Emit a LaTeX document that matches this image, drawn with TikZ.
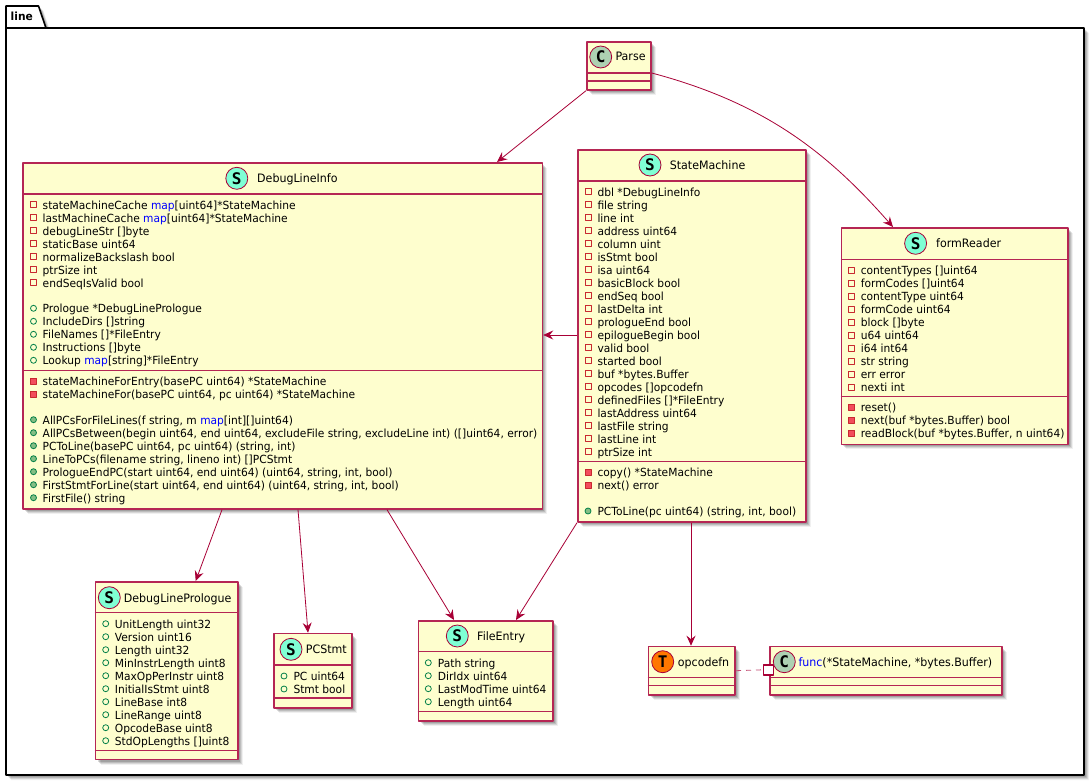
\documentclass[tikz,border=0pt]{standalone}
\usepackage{fontspec}
\setmainfont[FakeStretch=0.953]{DejaVu Sans}
\newfontfamily\spotfont{DejaVu Sans Mono}
\usetikzlibrary{calc,positioning,arrows.meta,shadows}
\definecolor{umlred}{HTML}{A80036}
\definecolor{umlfill}{HTML}{FEFECE}
\definecolor{privline}{HTML}{C82930}
\definecolor{privfill}{HTML}{F24D5C}
\definecolor{publine}{HTML}{038048}
\definecolor{pubfill}{HTML}{84BE84}
\definecolor{spotstruct}{HTML}{7FFFD4}
\definecolor{spotclass}{HTML}{ADD1B2}
\definecolor{spottype}{HTML}{FF7700}
\newcommand{\kw}[1]{\textcolor{blue}{#1}}

\begin{document}
\begin{tikzpicture}[
		x=1pt,
		y=-1pt,
		line join=round,
		softshadow/.style={
			drop shadow={shadow xshift=2pt, shadow yshift=-2pt, opacity=0.14, fill=black},
			drop shadow={shadow xshift=3pt, shadow yshift=-3pt, opacity=0.12, fill=black},
			drop shadow={shadow xshift=4pt, shadow yshift=-4pt, opacity=0.10, fill=black},
			drop shadow={shadow xshift=5pt, shadow yshift=-5pt, opacity=0.06, fill=black}
		},
		classbox/.style={draw=umlred!85!white, fill=umlfill, line width=1.7pt, inner sep=0pt, anchor=north west, softshadow},
		classline/.style={draw=umlred!85!white, line width=1.5pt},
		spot/.style={circle, draw=umlred, line width=0.8pt, minimum size=22pt, inner sep=0pt, font=\spotfont\bfseries\fontsize{16}{16}\selectfont},
		title/.style={anchor=base west, inner sep=0pt, yshift=-0.5pt, font=\fontsize{11.6}{13}\selectfont},
		member/.style={anchor=base west, inner sep=0pt, yshift=-0.5pt, font=\fontsize{11.2}{13}\selectfont},
		privfield/.style={rectangle, draw=privline, line width=0.8pt, minimum size=6pt, inner sep=0pt},
		privmethod/.style={rectangle, draw=privline, fill=privfill, line width=0.8pt, minimum size=6pt, inner sep=0pt},
		pubfield/.style={circle, draw=publine, line width=0.8pt, minimum size=6pt, inner sep=0pt},
		pubmethod/.style={circle, draw=publine, fill=pubfill, line width=0.8pt, minimum size=6pt, inner sep=0pt},
		link/.style={draw=umlred, line width=0.8pt, -{Stealth[length=10pt,width=9pt,inset=3.5pt]}}
		]
		
		\fill[white] (0,0) rectangle (1092,781);
		\useasboundingbox (0,0) rectangle (1092,781);
		
		%------------------------------------------------------------------
		% Package frame
		%------------------------------------------------------------------
		\draw[black, fill=white, line width=1.6pt, softshadow]
		(6,28) -- (6,6) -- (38.5,6) -- (46,28) -- (1084,28) -- (1084,775) -- (6,775) -- cycle;
		\draw[black, line width=1.6pt] (6,28) -- (46,28);
		\node[anchor=base west, inner sep=0pt, font=\bfseries\fontsize{11.2}{13}\selectfont] (pkgName) at (10.5,21) {line};
		
		%------------------------------------------------------------------
		% Parse
		%------------------------------------------------------------------
		\node[classbox, minimum width=64pt, minimum height=48pt] (Parse) at (586,41) {};
		\draw[classline] (Parse.west |- 0,73) -- (Parse.east |- 0,73);
		\draw[classline] (Parse.west |- 0,81) -- (Parse.east |- 0,81);
		\node[spot, fill=spotclass] (ParseSpot) at (600.7,57) {C};
		\node[title] (ParseName) at (615.3,60.5) {Parse};
		
		%------------------------------------------------------------------
		% DebugLineInfo
		%------------------------------------------------------------------
		\node[classbox, minimum width=519.5pt, minimum height=346pt] (DebugLineInfo) at (22,162) {};
		\draw[classline] (DebugLineInfo.west |- 0,194) -- (DebugLineInfo.east |- 0,194);
		\draw[classline] (DebugLineInfo.west |- 0,370.5) -- (DebugLineInfo.east |- 0,370.5);
		\node[spot, fill=spotstruct] (DebugLineInfoSpot) at (236.8,178.3) {S};
		\node[title] (DebugLineInfoName) at (257,181.8) {DebugLineInfo};
		
		\foreach \txt [count=\i from 0] in {
			stateMachineCache \kw{map}[uint64]*StateMachine,
			lastMachineCache \kw{map}[uint64]*StateMachine,
			debugLineStr []byte,
			staticBase uint64,
			normalizeBackslash bool,
			ptrSize int,
			endSeqIsValid bool}
		{
			\node[privfield] (dliPrivIcon\i) at (33.5,204.7+13*\i) {};
			\node[member] (dliPriv\i) at (42.5,208.7+13*\i) {\txt};
		}
		\foreach \txt [count=\i from 0] in {
			Prologue *DebugLinePrologue,
			IncludeDirs []string,
			FileNames []*FileEntry,
			Instructions []byte,
			Lookup \kw{map}[string]*FileEntry}
		{
			\node[pubfield] (dliPubIcon\i) at (33.5,308.3+13*\i) {};
			\node[member] (dliPub\i) at (42.5,312.3+13*\i) {\txt};
		}
		\foreach \txt [count=\i from 0] in {
			stateMachineForEntry(basePC uint64) *StateMachine,
			{stateMachineFor(basePC uint64, pc uint64) *StateMachine}}
		{
			\node[privmethod] (dliHideIcon\i) at (33.5,381.3+13*\i) {};
			\node[member] (dliHide\i) at (42.5,385.3+13*\i) {\txt};
		}
		\foreach \txt [count=\i from 0] in {
			{AllPCsForFileLines(f string, m \kw{map}[int][]uint64)},
			{AllPCsBetween(begin uint64, end uint64, excludeFile string, excludeLine int) ([]uint64, error)},
			{PCToLine(basePC uint64, pc uint64) (string, int)},
			{LineToPCs(filename string, lineno int) []PCStmt},
			{PrologueEndPC(start uint64, end uint64) (uint64, string, int, bool)},
			{FirstStmtForLine(start uint64, end uint64) (uint64, string, int, bool)},
			FirstFile() string}
		{
			\node[pubmethod] (dliCallIcon\i) at (33.5,419.7+13*\i) {};
			\node[member] (dliCall\i) at (42.5,423.7+13*\i) {\txt};
		}
		
		%------------------------------------------------------------------
		% StateMachine
		%------------------------------------------------------------------
		\node[classbox, minimum width=228pt, minimum height=372pt] (StateMachine) at (577,149) {};
		\draw[classline] (StateMachine.west |- 0,181) -- (StateMachine.east |- 0,181);
		\draw[classline] (StateMachine.west |- 0,461.3) -- (StateMachine.east |- 0,461.3);
		\node[spot, fill=spotstruct] (StateMachineSpot) at (650,165) {S};
		\node[title] (StateMachineName) at (669.6,169) {StateMachine};
		
		\foreach \txt [count=\i from 0] in {
			dbl *DebugLineInfo,
			file string,
			line int,
			address uint64,
			column uint,
			isStmt bool,
			isa uint64,
			basicBlock bool,
			endSeq bool,
			lastDelta int,
			prologueEnd bool,
			epilogueBegin bool,
			valid bool,
			started bool,
			buf *bytes.Buffer,
			opcodes []opcodefn,
			definedFiles []*FileEntry,
			lastAddress uint64,
			lastFile string,
			lastLine int,
			ptrSize int}
		{
			\node[privfield] (smPrivIcon\i) at (588,191.7+13*\i) {};
			\node[member] (smPriv\i) at (597.3,195.7+13*\i) {\txt};
		}
		\node[privmethod] (smCopyIcon) at (588,472) {};
		\node[member] (smCopy) at (597.3,476) {copy() *StateMachine};
		\node[privmethod] (smNextIcon) at (588,485) {};
		\node[member] (smNext) at (597.3,489) {next() error};
		\node[pubmethod] (smLineIcon) at (588,511) {};
		\node[member] (smLine) at (597.3,515) {PCToLine(pc uint64) (string, int, bool)};
		
		%------------------------------------------------------------------
		% formReader
		%------------------------------------------------------------------
		\node[classbox, minimum width=226.5pt, minimum height=216.5pt] (formReader) at (840.6,227) {};
		\draw[classline] (formReader.west |- 0,259.3) -- (formReader.east |- 0,259.3);
		\draw[classline] (formReader.west |- 0,396.3) -- (formReader.east |- 0,396.3);
		\node[spot, fill=spotstruct] (formReaderSpot) at (915.6,243.3) {S};
		\node[title] (formReaderName) at (936,247.3) {formReader};
		
		\foreach \txt [count=\i from 0] in {
			contentTypes []uint64,
			formCodes []uint64,
			contentType uint64,
			formCode uint64,
			block []byte,
			u64 uint64,
			i64 int64,
			str string,
			err error,
			nexti int}
		{
			\node[privfield] (frPrivIcon\i) at (851.5,270+13*\i) {};
			\node[member] (frPriv\i) at (860.6,274+13*\i) {\txt};
		}
		\foreach \txt [count=\i from 0] in {
			reset(),
			next(buf *bytes.Buffer) bool,
			{readBlock(buf *bytes.Buffer, n uint64)}}
		{
			\node[privmethod] (frHideIcon\i) at (851.5,407.3+13*\i) {};
			\node[member] (frHide\i) at (860.6,411.3+13*\i) {\txt};
		}
		
		%------------------------------------------------------------------
		% DebugLinePrologue
		%------------------------------------------------------------------
		\node[classbox, minimum width=142.6pt, minimum height=177.7pt] (DebugLinePrologue) at (94.7,581) {};
		\draw[classline] (DebugLinePrologue.west |- 0,612.7) -- (DebugLinePrologue.east |- 0,612.7);
		\draw[classline] (DebugLinePrologue.west |- 0,750.7) -- (DebugLinePrologue.east |- 0,750.7);
		\node[spot, fill=spotstruct] (DebugLinePrologueSpot) at (109.3,597.7) {S};
		\node[title] (DebugLinePrologueName) at (123.7,601.7) {DebugLinePrologue};
		
		\foreach \txt [count=\i from 0] in {
			UnitLength uint32,
			Version uint16,
			Length uint32,
			MinInstrLength uint8,
			MaxOpPerInstr uint8,
			InitialIsStmt uint8,
			LineBase int8,
			LineRange uint8,
			OpcodeBase uint8,
			StdOpLengths []uint8}
		{
			\node[pubfield] (dlpPubIcon\i) at (105.7,623.7+13*\i) {};
			\node[member] (dlpPub\i) at (114.7,627.7+13*\i) {\txt};
		}
		
		%------------------------------------------------------------------
		% PCStmt
		%------------------------------------------------------------------
		\node[classbox, minimum width=78pt, minimum height=74.3pt] (PCStmt) at (273,632.7) {};
		\draw[classline] (PCStmt.west |- 0,665) -- (PCStmt.east |- 0,665);
		\draw[classline] (PCStmt.west |- 0,698) -- (PCStmt.east |- 0,698);
		\node[spot, fill=spotstruct] (PCStmtSpot) at (291,649.3) {S};
		\node[title] (PCStmtName) at (305.7,653.3) {PCStmt};
		\node[pubfield] (pcsPubIcon0) at (284,676) {};
		\node[member] (pcsPub0) at (293.3,680) {PC uint64};
		\node[pubfield] (pcsPubIcon1) at (284,689) {};
		\node[member] (pcsPub1) at (293.3,693) {Stmt bool};
		
		%------------------------------------------------------------------
		% FileEntry
		%------------------------------------------------------------------
		\node[classbox, minimum width=134.6pt, minimum height=100pt] (FileEntry) at (417.7,620) {};
		\draw[classline] (FileEntry.west |- 0,651.7) -- (FileEntry.east |- 0,651.7);
		\draw[classline] (FileEntry.west |- 0,711.7) -- (FileEntry.east |- 0,711.7);
		\node[spot, fill=spotstruct] (FileEntrySpot) at (457.3,636) {S};
		\node[title] (FileEntryName) at (477,640) {FileEntry};
		
		\foreach \txt [count=\i from 0] in {
			Path string,
			DirIdx uint64,
			LastModTime uint64,
			Length uint64}
		{
			\node[pubfield] (fePubIcon\i) at (428.3,662.7+13*\i) {};
			\node[member] (fePub\i) at (437.7,666.7+13*\i) {\txt};
		}
		
		%------------------------------------------------------------------
		% opcodefn and the func type
		%------------------------------------------------------------------
		\node[classbox, minimum width=86.6pt, minimum height=48.3pt] (opcodefn) at (647.7,645.7) {};
		\draw[classline] (opcodefn.west |- 0,677.7) -- (opcodefn.east |- 0,677.7);
		\draw[classline] (opcodefn.west |- 0,685.7) -- (opcodefn.east |- 0,685.7);
		\node[spot, fill=spottype] (opcodefnSpot) at (662.7,661.7) {T};
		\node[title] (opcodefnName) at (677.7,665.7) {opcodefn};
		
		\node[classbox, minimum width=232pt, minimum height=48.3pt] (funcType) at (769,645.7) {};
		\draw[classline] (funcType.west |- 0,677.7) -- (funcType.east |- 0,677.7);
		\draw[classline] (funcType.west |- 0,685.7) -- (funcType.east |- 0,685.7);
		\node[spot, fill=spotclass] (funcTypeSpot) at (784.3,661.7) {C};
		\node[title] (funcTypeName) at (798.3,665.7) {\kw{func}(*StateMachine, *bytes.Buffer)};
		\node[rectangle, draw=umlred, fill=white, line width=1.4pt, minimum size=10pt, inner sep=0pt] (funcPort) at (768.7,669.8) {};
		
		%------------------------------------------------------------------
		% Connectors
		%------------------------------------------------------------------
		\draw[link] ($(Parse.south west)$) -- ($(DebugLineInfo.north west)+(475,0)$);
		\draw[link] (Parse.east |- 0,73) .. controls (765,103) and (828,153) .. ($(formReader.north west)+(52.4,0)$);
		\draw[link] ($(DebugLineInfo.south west)+(200,0)$) -- ($(DebugLinePrologue.north west)+(101,0)$);
		\draw[link] ($(DebugLineInfo.south west)+(276,0)$) -- ($(PCStmt.north west)+(35,0)$);
		\draw[link] ($(DebugLineInfo.south west)+(365,0)$) -- ($(FileEntry.north west)+(36.3,0)$);
		\draw[link] (StateMachine.west |- 0,335) -- (DebugLineInfo.east |- 0,335);
		\draw[link] ($(StateMachine.south west)$) -- ($(FileEntry.north west)+(98.3,0)$);
		\draw[link] ($(StateMachine.south west)+(114,0)$) -- ($(opcodefn.north west)+(43.3,0)$);
		\draw[umlred!70!white, line width=0.8pt, dash pattern=on 5pt off 5pt] (opcodefn.east) -- (funcPort.west);
		
	\end{tikzpicture}
\end{document}
